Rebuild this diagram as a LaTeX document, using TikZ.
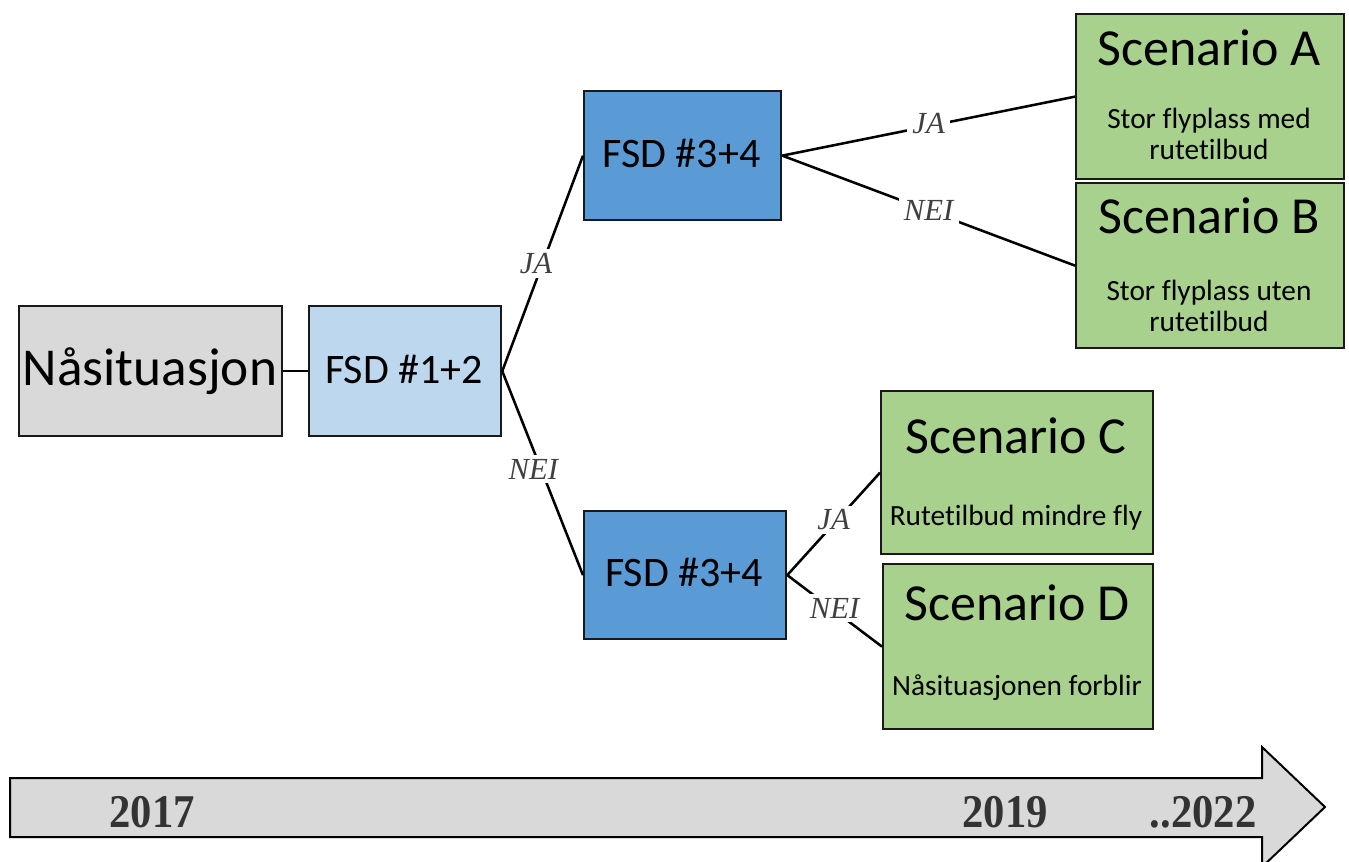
\documentclass[tikz,border=0pt]{standalone}
\usepackage{fontspec}
\setmainfont{Carlito}[Ligatures={NoCommon}]
\newfontfamily\timesf{Liberation Serif}
\definecolor{boxgray}{HTML}{D9D9D9}
\definecolor{lightblue}{HTML}{BDD7EE}
\definecolor{midblue}{HTML}{5B9BD5}
\definecolor{boxgreen}{HTML}{A9D18E}
\definecolor{labgray}{HTML}{404040}
\begin{document}
\begin{tikzpicture}[x=0.75pt,y=-0.75pt,
  box/.style={draw=black!90, line width=1.7pt, inner sep=0pt, anchor=north west},
  conn/.style={draw=black, line width=1.9pt},
  lab/.style={fill=white, inner sep=4pt, text=labgray, font=\timesf\itshape\fontsize{23}{25}\selectfont},
  title/.style={anchor=base, font=\fontsize{39}{44}\selectfont},
  sub/.style={anchor=base, font=\fontsize{22}{26}\selectfont},
  year/.style={anchor=base, text=black!80, font=\timesf\bfseries\fontsize{32}{36}\selectfont, yscale=1.1}]
\useasboundingbox (0,0) rectangle (1349,861);
\clip (0,0) rectangle (1349,861);
% boxes
\node[box, fill=boxgray, minimum width=263*0.75pt, minimum height=130*0.75pt] (nas) at (18,305) {};
\node[anchor=base, font=\fontsize{40}{44}\selectfont] (nastxt) at (150,385) {Nåsituasjon};
\node[box, fill=lightblue, minimum width=192*0.75pt, minimum height=130*0.75pt] (f12) at (308,305) {};
\node[anchor=base, font=\fontsize{31.5}{34}\selectfont] (f12txt) at (404,383) {FSD \#1+2};
\node[box, fill=midblue, minimum width=197*0.75pt, minimum height=129*0.75pt] (f34a) at (583,90) {};
\node[anchor=base, font=\fontsize{31.5}{34}\selectfont] (f34atxt) at (681.5,167) {FSD \#3+4};
\node[box, fill=midblue, minimum width=202*0.75pt, minimum height=128*0.75pt] (f34b) at (583,510) {};
\node[anchor=base, font=\fontsize{31.5}{34}\selectfont] (f34btxt) at (684,586) {FSD \#3+4};
% scenarios
\node[box, fill=boxgreen, minimum width=268*0.75pt, minimum height=165*0.75pt] (sa) at (1075,13) {};
\node[title] (satitle) at (1209,65) {Scenario A};
\node[sub] (sasub1) at (1209,128) {Stor flyplass med};
\node[sub] (sasub2) at (1209,159) {rutetilbud};
\node[box, fill=boxgreen, minimum width=268*0.75pt, minimum height=165*0.75pt] (sb) at (1075,182) {};
\node[title] (sbtitle) at (1209,233) {Scenario B};
\node[sub] (sbsub1) at (1209,300) {Stor flyplass uten};
\node[sub] (sbsub2) at (1209,331) {rutetilbud};
\node[box, fill=boxgreen, minimum width=272*0.75pt, minimum height=163*0.75pt] (sc) at (880,390) {};
\node[title] (sctitle) at (1016,453) {Scenario C};
\node[sub] (scsub) at (1016,525) {Rutetilbud mindre fly};
\node[box, fill=boxgreen, minimum width=270*0.75pt, minimum height=165*0.75pt] (sd) at (882,563) {};
\node[title] (sdtitle) at (1017,620) {Scenario D};
\node[sub] (sdsub) at (1017,695) {Nåsituasjonen forblir};
% connectors
\draw[conn] (nas.east) -- (f12.west);
\draw[conn] (f12.east) -- node[lab, xshift=-5pt, inner sep=3pt] (l1) {JA} (f34a.west);
\draw[conn] (f12.east) -- node[lab, xshift=-7pt, yshift=3pt, inner sep=3pt] (l2) {NEI} (f34b.west);
\draw[conn] (f34a.east) -- node[lab, yshift=2pt] (l3) {JA} (sa.west);
\draw[conn] (f34a.east) -- node[lab] (l4) {NEI} (sb.west);
\draw[conn] (f34b.east) -- node[lab, yshift=3pt, inner sep=3pt] (l5) {JA} (sc.west);
\draw[conn] (f34b.east) -- node[lab, yshift=2pt, inner sep=3pt] (l6) {NEI} (sd.west);
% timeline arrow
\draw[fill=boxgray, draw=black, line width=1.5pt, line join=miter]
  (10,778) -- (1262,778) -- (1262,747) -- (1325,807) -- (1262,867) -- (1262,837) -- (10,837) -- cycle;
\node[year] (y1) at (152,827) {2017};
\node[year] (y2) at (1005,827) {2019};
\node[year] (y3) at (1203,827) {..2022};
\end{tikzpicture}
\end{document}
